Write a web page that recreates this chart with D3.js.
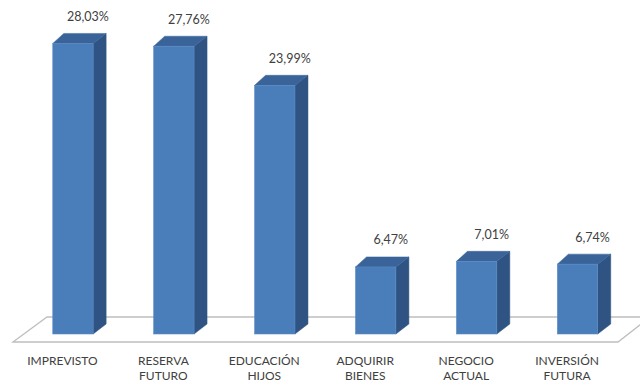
<!DOCTYPE html>
<html>
<head>
<meta charset="utf-8">
<script src="https://cdn.jsdelivr.net/npm/d3@7"></script>
<style>
  html, body { margin: 0; padding: 0; background: #fff; }
  svg { display: block; }
  text { font-family: Lato, "Open Sans", sans-serif; fill: #404040; }
</style>
</head>
<body>
<svg id="chart" width="640" height="382"></svg>
<script>
// Destino del ahorro (porcentaje de respuestas)
const categories = [
  ["IMPREVISTO"],
  ["RESERVA", "FUTURO"],
  ["EDUCACIÓN", "HIJOS"],
  ["ADQUIRIR", "BIENES"],
  ["NEGOCIO", "ACTUAL"],
  ["INVERSIÓN", "FUTURA"]
];
const values = [28.03, 27.76, 23.99, 6.47, 7.01, 6.74];
const valueLabels = ["28,03%", "27,76%", "23,99%", "6,47%", "7,01%", "6,74%"];

const width = 640, height = 382;
const svg = d3.select("#chart");

const keys = categories.map(c => c.join(" "));
const x = d3.scaleBand().domain(keys).range([22.5, 628]).paddingInner(0.6).paddingOuter(0.3);
const y = d3.scaleLinear().domain([0, 30]).range([334, 23]);

// 3D depth offsets
const dx = 13, dy = -10;

// floor
const floorFront = 342, floorBack = 317;
svg.append("polygon")
  .attr("points", [[13, floorFront], [47, floorBack], [650, floorBack], [618, floorFront]].map(p => p.join(",")).join(" "))
  .attr("fill", "#fff")
  .attr("stroke", "#bfbfbf")
  .attr("stroke-width", 1.3);

const data = keys.map((k, i) => ({ key: k, lines: categories[i], value: values[i], label: valueLabels[i] }));

const bars = svg.append("g").selectAll("g").data(data).join("g");

// side face
bars.append("polygon")
  .attr("points", d => {
    const x1 = x(d.key) + x.bandwidth(), yt = y(d.value), yb = y(0);
    return [[x1, yt], [x1 + dx, yt + dy], [x1 + dx, yb + dy], [x1, yb]].map(p => p.join(",")).join(" ");
  })
  .attr("fill", "#2f5483")
  .attr("stroke", "#2f5483")
  .attr("stroke-width", 0.5);

// top face
bars.append("polygon")
  .attr("points", d => {
    const x0 = x(d.key), x1 = x0 + x.bandwidth(), yt = y(d.value);
    return [[x0, yt], [x0 + dx - 2, yt + dy], [x1 + dx, yt + dy], [x1, yt]].map(p => p.join(",")).join(" ");
  })
  .attr("fill", "#3a6499")
  .attr("stroke", "#3a6499")
  .attr("stroke-width", 0.5);

// front face
bars.append("rect")
  .attr("x", d => x(d.key))
  .attr("y", d => y(d.value))
  .attr("width", x.bandwidth())
  .attr("height", d => y(0) - y(d.value))
  .attr("fill", "#4a7ebb")
  .attr("stroke", "#5a8ac4")
  .attr("stroke-width", 0.6);

// value labels
bars.append("text")
  .attr("x", d => x(d.key) + x.bandwidth() / 2 + 15)
  .attr("y", d => y(d.value) - 27)
  .attr("text-anchor", "middle")
  .attr("dominant-baseline", "central")
  .attr("font-size", "12.5px")
  .text(d => d.label);

// category labels
const cat = svg.append("g").selectAll("text").data(data).join("text")
  .attr("x", d => x(d.key) + x.bandwidth() / 2 - 10.5)
  .attr("y", 360)
  .attr("text-anchor", "middle")
  .attr("dominant-baseline", "central")
  .attr("font-size", "12px");
cat.selectAll("tspan").data(d => d.lines.map(l => ({ l, cx: x(d.key) + x.bandwidth() / 2 - 10.5 })))
  .join("tspan")
  .attr("x", t => t.cx)
  .attr("dy", (t, i) => i === 0 ? 0 : 15)
  .text(t => t.l);
</script>
</body>
</html>
